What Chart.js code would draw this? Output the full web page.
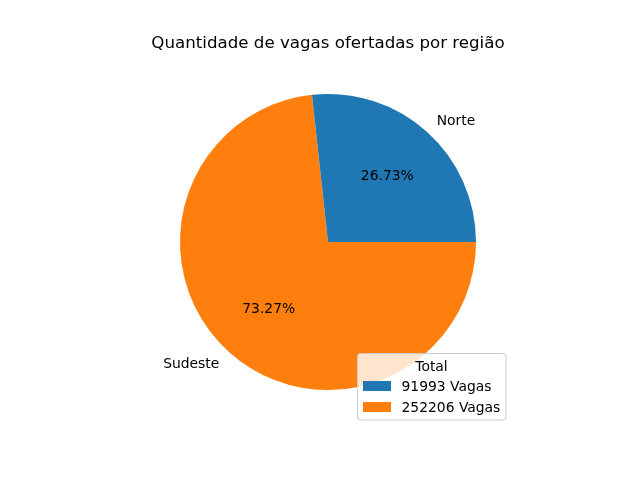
<!DOCTYPE html>
<html><head><meta charset="utf-8">
<script src="https://cdn.jsdelivr.net/npm/chart.js@4"></script>
<style>html,body{margin:0;padding:0;background:#fff}</style></head>
<body><canvas id="c" width="640" height="480"></canvas>
<script>
const categories = ['Norte', 'Sudeste'];
const values = [91993, 252206];
const colors = ['#1f77b4', '#ff7f0e'];
const legendTitle = 'Total';
const legendLabels = values.map(v => v + ' Vagas');
const chartTitle = 'Quantidade de vagas ofertadas por região';

const FONT = '"DejaVu Sans", sans-serif';
const total = values.reduce((a, b) => a + b, 0);

// Chart.js draws clockwise; matplotlib counter-clockwise from 3 o'clock.
// Reverse order so the picture matches.
const order = categories.map((_, i) => i).reverse();

const overlay = {
  id: 'overlay',
  afterDraw(chart) {
    const ctx = chart.ctx;
    const meta = chart.getDatasetMeta(0);
    const dy = 1;
    ctx.save();
    ctx.fillStyle = '#000';
    // title
    ctx.font = '16.67px ' + FONT;
    ctx.textAlign = 'center';
    ctx.textBaseline = 'middle';
    ctx.fillText(chartTitle, 328, 43 + dy);
    // labels and percentages
    ctx.font = '13.89px ' + FONT;
    meta.data.forEach((arc, j) => {
      const i = order[j];
      const p = arc.getProps(['x', 'y', 'startAngle', 'endAngle', 'outerRadius'], true);
      const mid = (p.startAngle + p.endAngle) / 2;
      const c = Math.cos(mid), s = Math.sin(mid);
      ctx.textAlign = c > 0 ? 'left' : 'right';
      ctx.fillText(categories[i], p.x + c * p.outerRadius * 1.1, p.y + s * p.outerRadius * 1.1 + dy);
      ctx.textAlign = 'center';
      ctx.fillText((values[i] / total * 100).toFixed(2) + '%', p.x + c * p.outerRadius * 0.6, p.y + s * p.outerRadius * 0.6 + dy);
    });
    // legend
    const bx = 357.5, by = 353.5, bw = 148.5, bh = 66.5, r = 3;
    ctx.beginPath();
    ctx.moveTo(bx + r, by);
    ctx.lineTo(bx + bw - r, by);
    ctx.quadraticCurveTo(bx + bw, by, bx + bw, by + r);
    ctx.lineTo(bx + bw, by + bh - r);
    ctx.quadraticCurveTo(bx + bw, by + bh, bx + bw - r, by + bh);
    ctx.lineTo(bx + r, by + bh);
    ctx.quadraticCurveTo(bx, by + bh, bx, by + bh - r);
    ctx.lineTo(bx, by + r);
    ctx.quadraticCurveTo(bx, by, bx + r, by);
    ctx.closePath();
    ctx.fillStyle = 'rgba(255,255,255,0.8)';
    ctx.fill();
    ctx.strokeStyle = '#cccccc';
    ctx.lineWidth = 1;
    ctx.stroke();
    ctx.fillStyle = '#000';
    ctx.textAlign = 'center';
    ctx.fillText(legendTitle, 431.5, 366 + dy);
    ctx.textAlign = 'left';
    legendLabels.forEach((t, i) => {
      const cy = 386 + i * 21;
      ctx.fillStyle = colors[i];
      ctx.fillRect(363, cy - 5, 28, 10);
      ctx.fillStyle = '#000';
      ctx.fillText(t, 401.5, cy + dy);
    });
    ctx.restore();
  }
};

new Chart(document.getElementById('c'), {
  type: 'pie',
  data: {
    labels: order.map(i => categories[i]),
    datasets: [{
      data: order.map(i => values[i]),
      backgroundColor: order.map(i => colors[i]),
      borderWidth: 0,
      hoverOffset: 0
    }]
  },
  options: {
    responsive: false,
    devicePixelRatio: 1,
    animation: false,
    rotation: 90,
    layout: { padding: { left: 180, right: 164, top: 94, bottom: 90 } },
    plugins: { legend: { display: false }, title: { display: false }, tooltip: { enabled: false } }
  },
  plugins: [overlay]
});
</script>
</body></html>
